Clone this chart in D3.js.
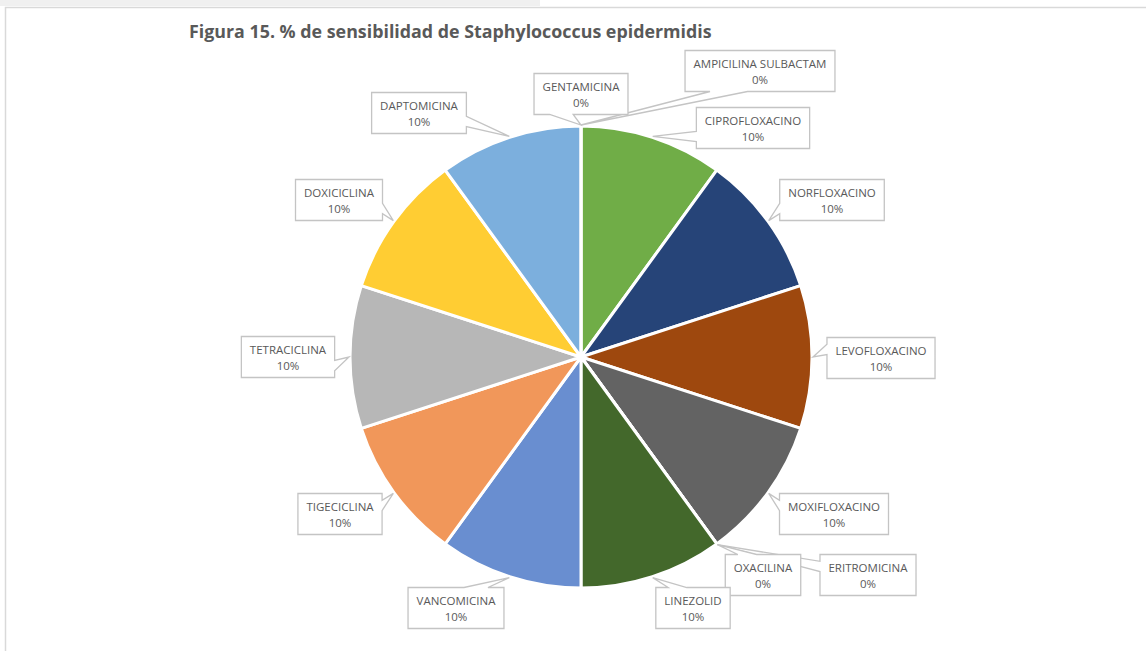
<!DOCTYPE html>
<html>
<head>
<meta charset="utf-8">
<script src="https://cdn.jsdelivr.net/npm/d3@7"></script>
<style>
  body { margin: 0; background: #fff; }
  svg { display: block; }
</style>
</head>
<body>
<script>
// data, in the order the slices run clockwise from 12 o'clock
var antibiotics = [
  'AMPICILINA SULBACTAM', 'CIPROFLOXACINO', 'NORFLOXACINO', 'LEVOFLOXACINO',
  'MOXIFLOXACINO', 'ERITROMICINA', 'OXACILINA', 'LINEZOLID', 'VANCOMICINA',
  'TIGECICLINA', 'TETRACICLINA', 'DOXICICLINA', 'DAPTOMICINA', 'GENTAMICINA'
];
var sensible = [0, 1, 1, 1, 1, 0, 0, 1, 1, 1, 1, 1, 1, 0];

var sliceColors = [
  '#4472C4', '#70AD47', '#264478', '#9E480E', '#636363', '#997300', '#255E91',
  '#43682B', '#698ED0', '#F1975A', '#B7B7B7', '#FFCD33', '#7CAFDD', '#8CC168'
];

// where each callout box sits, relative to the pie centre (layout only)
var calloutOffsets = [
  [179, -286], [172, -229], [251, -157], [300, 1], [253, 157], [287, 218],
  [182, 218], [112, 251], [-125, 251], [-241, 157], [-293, 0], [-242, -157],
  [-162, -244], [0, -263]
];

var width = 1146;
var height = 651;
var cx = 581, cy = 357, radius = 231;

var svg = d3.select('body')
  .append('svg')
    .attr('width', width)
    .attr('height', height);

// spreadsheet strip + chart area frame
svg.append('rect')
  .attr('x', 0).attr('y', 0)
  .attr('width', 540).attr('height', 6)
  .attr('fill', '#f0f0f0');
svg.append('path')
  .attr('d', 'M5.5,' + (height + 2) + 'V7.5H' + (width + 2))
  .attr('fill', 'none')
  .attr('stroke', '#d9d9d9')
  .attr('stroke-width', 1.5);

// title, squeezed to the width it has in the original
var title = svg.append('text')
  .attr('x', 189)
  .attr('y', 38)
  .attr('font-family', 'Open Sans, sans-serif')
  .attr('font-weight', 'bold')
  .attr('font-size', 16)
  .attr('fill', '#595959')
  .text('Figura 15. % de sensibilidad de Staphylococcus epidermidis');
var tw = title.node().getComputedTextLength();
title.attr('font-size', 16 * 523 / tw);

var total = d3.sum(sensible);
var pct = d3.format('.0%');

var pie = d3.pie()
  .sort(null)
  .value(function(d) { return d; });

var arcs = pie(sensible);

var arc = d3.arc()
  .innerRadius(0)
  .outerRadius(radius);

var g = svg.append('g')
  .attr('transform', 'translate(' + cx + ',' + cy + ')');

g.selectAll('path.slice')
  .data(arcs)
  .enter()
  .append('path')
    .attr('class', 'slice')
    .attr('d', arc)
    .attr('fill', function(d, i) { return sliceColors[i]; })
    .attr('stroke', '#fff')
    .attr('stroke-width', 3)
    .attr('stroke-linejoin', 'round');

// Excel-style wedgeRectCallout outline: box l,t,r,b with a wedge to (px,py)
function calloutPath(l, t, r, b, px, py) {
  var w = r - l, h = b - t;
  var hc = l + w / 2, vc = t + h / 2;
  var dx = px - hc, dy = py - vc;
  var dz = Math.abs(dy) - Math.abs(dx * h / w);
  var x1 = l + w * (dx > 0 ? 7 : 2) / 12, x2 = l + w * (dx > 0 ? 10 : 5) / 12;
  var y1 = t + h * (dy > 0 ? 7 : 2) / 12, y2 = t + h * (dy > 0 ? 10 : 5) / 12;
  var p = d3.path();
  p.moveTo(l, t);
  if (dz > 0 && dy < 0) { p.lineTo(x1, t); p.lineTo(px, py); p.lineTo(x2, t); }
  p.lineTo(r, t);
  if (dz <= 0 && dx > 0) { p.lineTo(r, y1); p.lineTo(px, py); p.lineTo(r, y2); }
  p.lineTo(r, b);
  if (dz > 0 && dy > 0) { p.lineTo(x2, b); p.lineTo(px, py); p.lineTo(x1, b); }
  p.lineTo(l, b);
  if (dz <= 0 && dx < 0) { p.lineTo(l, y2); p.lineTo(px, py); p.lineTo(l, y1); }
  p.closePath();
  return p.toString();
}

var labels = svg.append('g').attr('class', 'labels');

arcs.forEach(function(d, i) {
  var bx = cx + calloutOffsets[i][0];
  var by = cy + calloutOffsets[i][1];
  var mid = (d.startAngle + d.endAngle) / 2;
  var tipX = cx + Math.sin(mid) * (radius + 1);
  var tipY = cy - Math.cos(mid) * (radius + 1);

  var lab = labels.append('g');
  var box = lab.append('path');
  var t1 = lab.append('text')
    .attr('x', bx).attr('y', by - 3)
    .attr('text-anchor', 'middle')
    .attr('font-family', 'Open Sans, sans-serif')
    .attr('font-size', 11.5)
    .attr('fill', '#595959')
    .text(antibiotics[i]);
  lab.append('text')
    .attr('x', bx).attr('y', by + 13)
    .attr('text-anchor', 'middle')
    .attr('font-family', 'Open Sans, sans-serif')
    .attr('font-size', 11.5)
    .attr('fill', '#595959')
    .text(pct(d.value / total));

  var half = t1.node().getComputedTextLength() / 2 + 8.5;
  box.attr('d', calloutPath(bx - half, by - 20.5, bx + half, by + 20.5, tipX, tipY))
    .attr('fill', '#fff')
    .attr('stroke', '#c4c4c4')
    .attr('stroke-width', 1.3);
});
</script>
</body>
</html>
